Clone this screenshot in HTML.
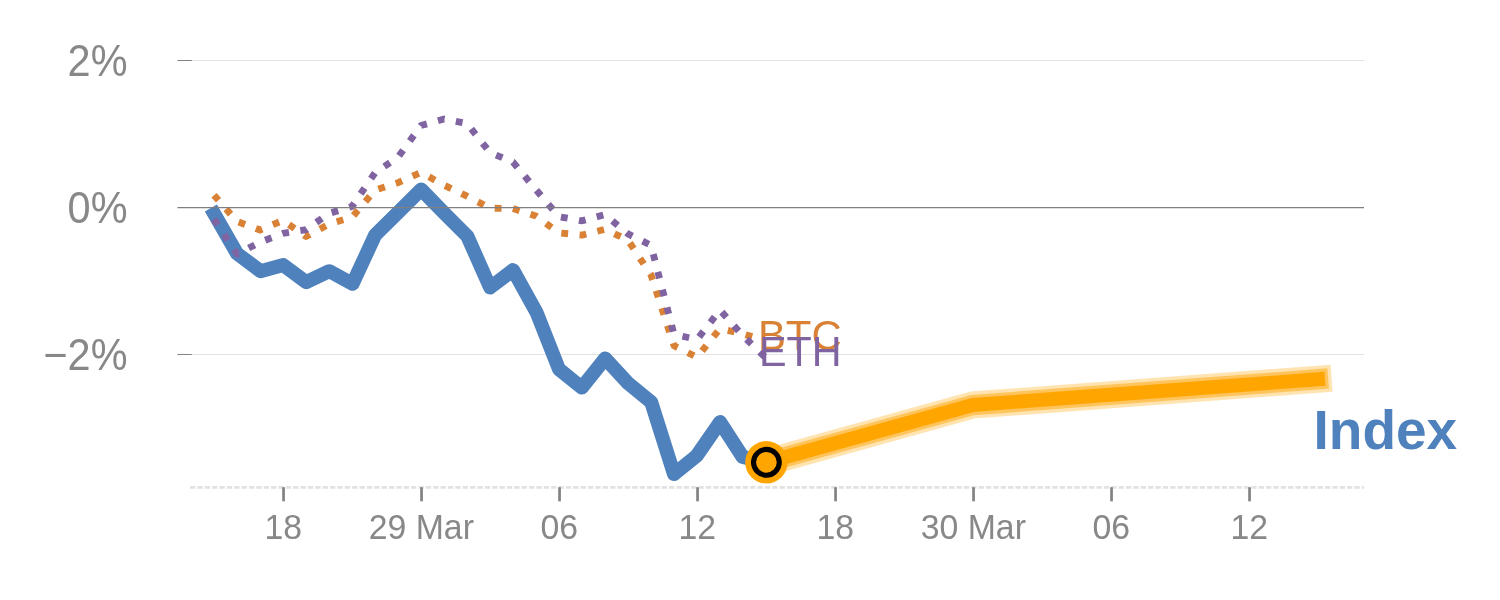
<!DOCTYPE html>
<html lang="en">
<head>
<meta charset="utf-8">
<title>Index forecast chart</title>
<style>
html,body{margin:0;padding:0;background:#ffffff;}
body{width:1500px;height:600px;overflow:hidden;}
svg{display:block;}
text{font-family:"Liberation Sans",sans-serif;}
</style>
</head>
<body>
<svg width="1500" height="600" viewBox="0 0 1500 600">
<rect width="1500" height="600" fill="#ffffff"/>
<g class="grid" fill="none">
<line x1="191.5" x2="1364.0" y1="60.5" y2="60.5" stroke="#e3e3e3" stroke-width="1"/>
<line x1="191.5" x2="1364.0" y1="354.5" y2="354.5" stroke="#e3e3e3" stroke-width="1"/>
</g>
<g class="y-axis">
<line x1="177.4" x2="191.8" y1="60.5" y2="60.5" stroke="#828282" stroke-width="1"/>
<text transform="translate(127.6 75.7) scale(0.95 1)" text-anchor="end" font-size="43.7" fill="#888888">2%</text>
<text transform="translate(127.6 222.7) scale(0.95 1)" text-anchor="end" font-size="43.7" fill="#888888">0%</text>
<line x1="177.4" x2="191.8" y1="354.5" y2="354.5" stroke="#828282" stroke-width="1"/>
<text transform="translate(127.6 369.7) scale(0.95 1)" text-anchor="end" font-size="43.7" fill="#888888">−2%</text>
</g>
<g class="x-axis">
<line x1="190" x2="1364.0" y1="487.4" y2="487.4" stroke="#e2e2e2" stroke-width="2.75" stroke-dasharray="5.3 2.07"/>
<line x1="283.55" x2="283.55" y1="487.2" y2="501.3" stroke="#828282" stroke-width="2.7"/>
<text transform="translate(283.3 538.8) scale(0.98 1)" text-anchor="middle" font-size="34.5" fill="#888888">18</text>
<line x1="421.55" x2="421.55" y1="487.2" y2="501.3" stroke="#828282" stroke-width="2.7"/>
<text transform="translate(421.3 538.8) scale(0.98 1)" text-anchor="middle" font-size="34.5" fill="#888888">29 Mar</text>
<line x1="559.55" x2="559.55" y1="487.2" y2="501.3" stroke="#828282" stroke-width="2.7"/>
<text transform="translate(559.3 538.8) scale(0.98 1)" text-anchor="middle" font-size="34.5" fill="#888888">06</text>
<line x1="697.55" x2="697.55" y1="487.2" y2="501.3" stroke="#828282" stroke-width="2.7"/>
<text transform="translate(697.3 538.8) scale(0.98 1)" text-anchor="middle" font-size="34.5" fill="#888888">12</text>
<line x1="835.55" x2="835.55" y1="487.2" y2="501.3" stroke="#828282" stroke-width="2.7"/>
<text transform="translate(835.3 538.8) scale(0.98 1)" text-anchor="middle" font-size="34.5" fill="#888888">18</text>
<line x1="973.55" x2="973.55" y1="487.2" y2="501.3" stroke="#828282" stroke-width="2.7"/>
<text transform="translate(973.3 538.8) scale(0.98 1)" text-anchor="middle" font-size="34.5" fill="#888888">30 Mar</text>
<line x1="1111.55" x2="1111.55" y1="487.2" y2="501.3" stroke="#828282" stroke-width="2.7"/>
<text transform="translate(1111.3 538.8) scale(0.98 1)" text-anchor="middle" font-size="34.5" fill="#888888">06</text>
<line x1="1249.55" x2="1249.55" y1="487.2" y2="501.3" stroke="#828282" stroke-width="2.7"/>
<text transform="translate(1249.3 538.8) scale(0.98 1)" text-anchor="middle" font-size="34.5" fill="#888888">12</text>
</g>
<g class="series" fill="none">
<polyline points="210.9,207.9 237.0,253.5 260.5,271.2 283.2,265.1 306.2,282.1 329.3,271.2 352.6,283.8 375.2,235.0 398.0,212.6 421.2,189.5 444.0,212.8 467.3,236.1 490.1,287.5 513.1,270.1 536.5,312.3 559.0,369.3 581.8,387.6 605.2,358.4 628.3,383.4 651.2,402.2 674.0,474.1 696.9,455.6 720.1,422.1 742.6,456.9 766.4,462.3" stroke="#4f81bd" stroke-width="14" stroke-linejoin="round" stroke-linecap="butt"/>
<polyline points="214.0,195.2 237.0,221.4 260.0,230.0 283.0,220.4 306.0,236.5 329.0,224.0 352.0,217.3 375.0,190.2 398.0,182.7 421.0,172.4 444.0,185.2 467.0,196.2 490.0,208.2 513.0,208.6 536.0,216.0 559.0,232.9 582.0,235.1 605.0,229.3 628.0,240.2 651.0,274.9 674.0,345.8 697.0,357.3 720.0,328.6 743.0,334.0 766.0,340.6" stroke="#d98134" stroke-width="6.85" stroke-dasharray="6.85 11.48" stroke-linejoin="round"/>
<polyline points="214.0,219.1 237.0,254.1 260.0,242.2 283.0,233.4 306.0,229.7 329.0,213.4 352.0,206.5 375.0,172.8 398.0,157.2 421.0,125.5 444.0,119.0 467.0,123.5 490.0,152.5 513.0,162.1 536.0,189.7 559.0,216.7 582.0,220.8 605.0,214.6 628.0,233.9 651.0,245.3 674.0,334.4 697.0,339.5 720.0,310.1 743.0,335.8 766.0,358.1" stroke="#8064a2" stroke-width="6.85" stroke-dasharray="6.85 11.48" stroke-linejoin="round"/>
<polyline points="766.4,462.3 973,405 1318,379.3" stroke="#ffa500" stroke-opacity="0.31" stroke-width="27.2" stroke-linecap="square" stroke-linejoin="miter"/>
<polyline points="766.4,462.3 973,405 1318,379.3" stroke="#ffa500" stroke-opacity="0.48" stroke-width="20.4" stroke-linecap="square" stroke-linejoin="miter"/>
<polyline points="766.4,462.3 973,405 1318,379.3" stroke="#ffa500" stroke-opacity="1" stroke-width="13.9" stroke-linecap="square" stroke-linejoin="miter"/>
</g>
<line class="zero-rule" x1="177.4" x2="1364.0" y1="207.5" y2="207.5" stroke="#808080" stroke-width="1.25"/>
<circle cx="766.4" cy="462.3" r="21.2" fill="#ffa500"/>
<circle cx="766.4" cy="462.3" r="12.9" fill="#ffa500" stroke="#000000" stroke-width="5.1"/>
<text transform="translate(757.9 350.4) scale(0.988 1)" font-size="42.4" fill="#d98134">BTC</text>
<text transform="translate(759.0 365.8) scale(0.975 1)" font-size="42.4" fill="#8064a2">ETH</text>
<text x="1313.5" y="448.7" font-size="55" font-weight="bold" fill="#4f81bd">Index</text>
</svg>
</body>
</html>
